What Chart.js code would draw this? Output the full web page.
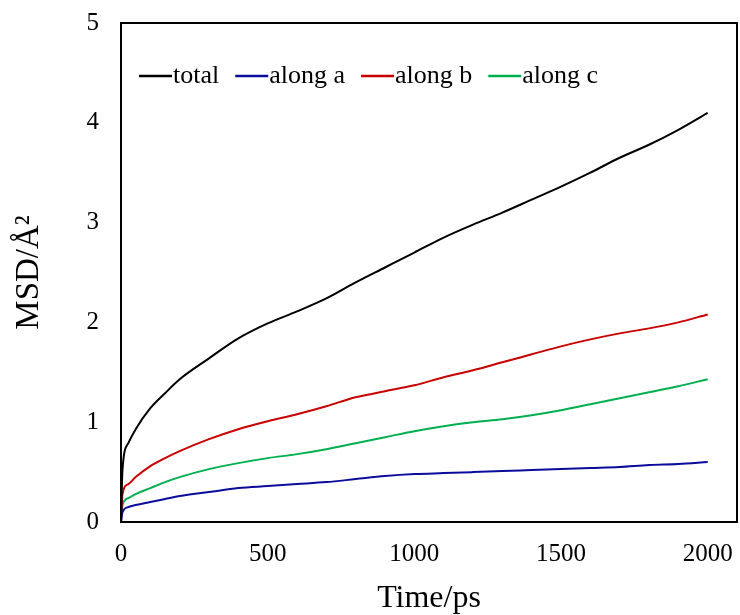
<!DOCTYPE html>
<html>
<head>
<meta charset="utf-8">
<script src="https://cdn.jsdelivr.net/npm/chart.js@4.4.1/dist/chart.umd.min.js"></script>
<style>
html,body{margin:0;padding:0;background:#fff;}
#wrap{width:740px;height:615px;position:relative;}
</style>
</head>
<body>
<div id="wrap"><canvas id="c" width="740" height="615"></canvas></div>
<script>
const times   = [0, 5, 25, 50, 100, 150, 200, 300, 400, 500, 600, 700, 800, 900, 1000, 1100, 1200, 1300, 1400, 1500, 1600, 1700, 1800, 1900, 2000];
const total   = [0, 0.52, 0.79, 0.93, 1.14, 1.29, 1.43, 1.64, 1.84, 1.99, 2.11, 2.24, 2.40, 2.55, 2.70, 2.85, 2.98, 3.10, 3.23, 3.36, 3.50, 3.65, 3.78, 3.93, 4.10];
const alongA  = [0, 0.10, 0.15, 0.17, 0.20, 0.23, 0.26, 0.30, 0.34, 0.36, 0.38, 0.40, 0.43, 0.46, 0.48, 0.49, 0.50, 0.51, 0.52, 0.53, 0.54, 0.55, 0.57, 0.58, 0.60];
const alongB  = [0, 0.28, 0.38, 0.45, 0.56, 0.64, 0.71, 0.83, 0.93, 1.01, 1.08, 1.16, 1.25, 1.31, 1.37, 1.45, 1.52, 1.60, 1.68, 1.76, 1.83, 1.89, 1.94, 2.00, 2.08];
const alongC  = [0, 0.17, 0.24, 0.28, 0.34, 0.40, 0.45, 0.53, 0.59, 0.64, 0.68, 0.73, 0.79, 0.85, 0.91, 0.96, 1.00, 1.03, 1.07, 1.12, 1.18, 1.24, 1.30, 1.36, 1.43];
const seriesNames = ['total', 'along a', 'along b', 'along c'];
const xTicks = [0, 500, 1000, 1500, 2000];
const yTicks = [0, 1, 2, 3, 4, 5];

const colors = ['#000000', '#0c0c9c', '#c80000', '#00b050'];
const FONT = "'Liberation Serif', 'Times New Roman', serif";

function pts(arr){ return times.map((t,i)=>({x:t, y:arr[i]})); }

const datasets = [total, alongA, alongB, alongC].map((arr,i)=>({
  label: seriesNames[i],
  data: pts(arr),
  borderColor: colors[i],
  backgroundColor: colors[i],
  borderWidth: 2,
  pointRadius: 0,
  cubicInterpolationMode: 'monotone',
  fill: false
}));

function zeroPad(s){ s.paddingTop = 0; s.paddingBottom = 0; s.paddingLeft = 0; s.paddingRight = 0; }

const framePlugin = {
  id: 'frame',
  afterDatasetsDraw(chart){
    const {ctx, chartArea:a} = chart;
    ctx.save();
    ctx.strokeStyle = '#000';
    ctx.lineWidth = 2;
    ctx.strokeRect(a.left, a.top, a.right - a.left, a.bottom - a.top);
    ctx.restore();
  },
  afterDraw(chart){
    const ctx = chart.ctx;
    ctx.save();
    ctx.font = "26px " + FONT;
    ctx.textBaseline = 'middle';
    let x = 139;
    const y = 76;
    chart.data.datasets.forEach(ds=>{
      ctx.strokeStyle = ds.borderColor;
      ctx.lineWidth = 2.5;
      ctx.beginPath();
      ctx.moveTo(x, y);
      ctx.lineTo(x + 33, y);
      ctx.stroke();
      x += 34;
      ctx.fillStyle = '#000';
      ctx.fillText(ds.label, x, y);
      x += ctx.measureText(ds.label).width + 16;
    });
    ctx.restore();
  }
};

new Chart(document.getElementById('c'), {
  type: 'line',
  data: { datasets },
  options: {
    responsive: false,
    animation: false,
    layout: { padding: { top: 23, right: 3, left: 0, bottom: 0 } },
    plugins: { legend: { display: false }, tooltip: { enabled: false } },
    scales: {
      x: {
        type: 'linear',
        min: 0, max: 2100,
        grid: { display: false, drawTicks: false },
        border: { display: false },
        afterBuildTicks(s){ s.ticks = xTicks.map(v=>({value:v})); },
        afterFit(s){ s.height = 93; zeroPad(s); },
        ticks: { color: '#000', font: { family: FONT, size: 25 }, padding: 17, maxRotation: 0, callback: v => String(v) },
        title: { display: true, text: 'Time/ps', color: '#000', font: { family: FONT, size: 32, lineHeight: 1.0 }, padding: { top: 0, bottom: 0 } }
      },
      y: {
        min: 0, max: 5,
        grid: { display: false, drawTicks: false },
        border: { display: false },
        afterBuildTicks(s){ s.ticks = yTicks.map(v=>({value:v})); },
        afterFit(s){ s.width = 121; zeroPad(s); },
        ticks: { color: '#000', font: { family: FONT, size: 25 }, padding: 22 },
        title: { display: true, text: 'MSD/Å²', color: '#000', font: { family: FONT, size: 33 }, padding: { top: 10, bottom: 0 } }
      }
    }
  },
  plugins: [framePlugin]
});
</script>
</body>
</html>
